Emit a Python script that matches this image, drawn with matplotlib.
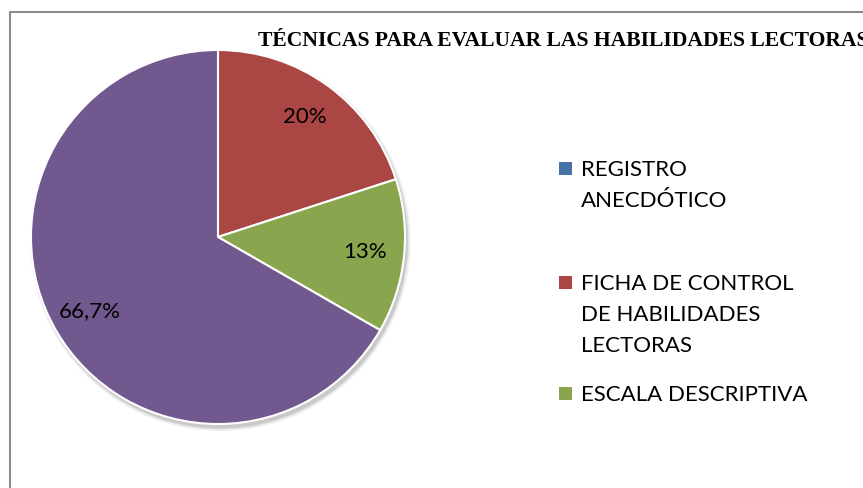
import matplotlib.pyplot as plt
from matplotlib.patches import Circle, Rectangle

categories = ["REGISTRO\nANECDÓTICO", "FICHA DE CONTROL\nDE HABILIDADES\nLECTORAS", "ESCALA DESCRIPTIVA", ""]
values = [0, 20, 13.3, 66.7]
pct_labels = ["", "20%", "13%", "66,7%"]
colors = ["#4572A7", "#AA4643", "#89A54E", "#71588F"]
title = "TÉCNICAS PARA EVALUAR LAS HABILIDADES LECTORAS"

W, H = 863, 488
fig = plt.figure(figsize=(W / 100, H / 100), dpi=100)

# pie axes: centre (218, 237) px, radius 187 px, limits +-1.2
r_px = 187
size = 2.4 * r_px
cx, cy = 218, 237
ax = fig.add_axes([(cx - size / 2) / W, (H - cy - size / 2) / H, size / W, size / H])

# soft shadow, bottom right
for rad, a in [(1.018, 0.05), (1.010, 0.07), (1.003, 0.10)]:
    ax.add_patch(Circle((0.012, -0.02), rad, color="black", alpha=a, lw=0, zorder=0))

wedges, texts = ax.pie(values, labels=pct_labels, colors=colors, startangle=90,
                       counterclock=False, labeldistance=0.79,
                       wedgeprops=dict(edgecolor="white", linewidth=1.5),
                       textprops=dict(fontsize=16, family="Lato", color="black"))
for t in texts:
    t.set_ha("center")
    t.set_va("center")
ax.set_xlim(-1.2, 1.2)
ax.set_ylim(-1.2, 1.2)
ax.set_aspect("equal")
ax.axis("off")

# frame around the chart
fig.add_artist(Rectangle((9.5 / W, -0.05), 1.0, (H - 12) / H + 0.05, transform=fig.transFigure,
                         fill=False, edgecolor="#8C8C8C", lw=1.5))

fig.text(258 / W, (H - 41.5) / H, title, fontsize=15.6, fontweight="bold",
         family="Liberation Serif", ha="left", va="center")

# legend
first_line_y = [168, 282, 393]
for cat, col, y in zip(categories[:3], colors[:3], first_line_y):
    fig.add_artist(Rectangle((559 / W, (H - y - 6.5) / H), 13 / W, 13 / H,
                             transform=fig.transFigure, color=col, lw=0))
    fig.text(581 / W, (H - y + 8) / H, cat, fontsize=16, family="Lato",
             ha="left", va="top", linespacing=1.7)

fig.savefig("out.png", dpi=100)
